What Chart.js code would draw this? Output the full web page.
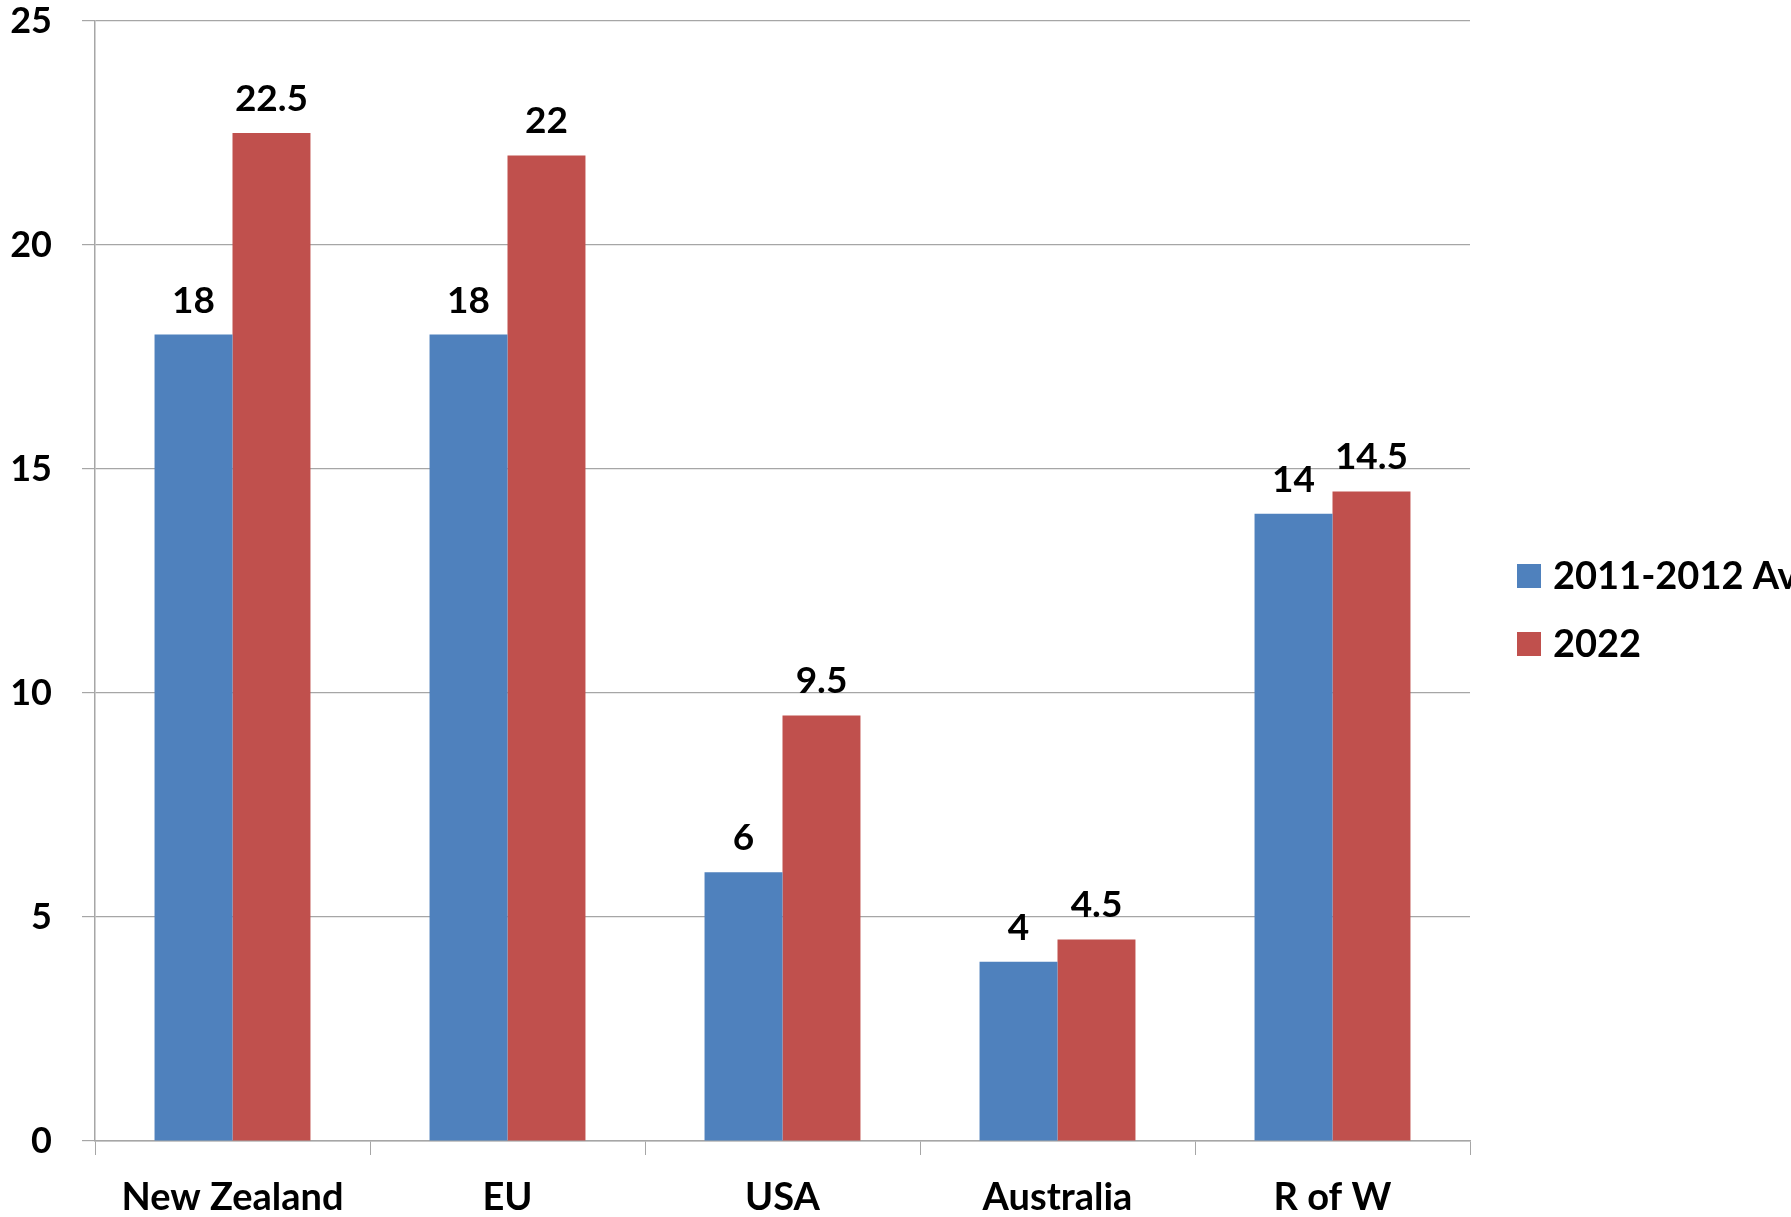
<!DOCTYPE html>
<html>
<head>
<meta charset="utf-8">
<script src="https://cdn.jsdelivr.net/npm/chart.js@4/dist/chart.umd.min.js"></script>
<style>
  html, body { margin: 0; padding: 0; background: #fff; overflow: hidden; }
  #wrap { width: 1791px; height: 1217px; position: relative; }
</style>
</head>
<body>
<div id="wrap"><canvas id="chart"></canvas></div>
<script>
const categories = ['New Zealand', 'EU', 'USA', 'Australia', 'R of W'];
const seriesNames = ['2011-2012 Av', '2022'];
const avg2011_2012 = [18, 18, 6, 4, 14];
const values2022 = [22.5, 22, 9.5, 4.5, 14.5];
const yTicks = [0, 5, 10, 15, 20, 25];

const FONT = 'Lato, Calibri, "Open Sans", sans-serif';
const GRID = '#a6a6a6';

// etiquetas de valor encima de cada barra
const valueLabels = {
  id: 'valueLabels',
  afterDatasetsDraw(chart) {
    const ctx = chart.ctx;
    ctx.save();
    ctx.font = 'bold 37px ' + FONT;
    ctx.fillStyle = '#000';
    ctx.textAlign = 'center';
    ctx.textBaseline = 'alphabetic';
    chart.data.datasets.forEach((ds, i) => {
      chart.getDatasetMeta(i).data.forEach((bar, j) => {
        ctx.fillText(String(ds.data[j]), bar.x, bar.y - 22);
      });
    });
    ctx.restore();
  }
};

// leyenda a la derecha, cortada por el borde como en el original
const sideLegend = {
  id: 'sideLegend',
  afterDraw(chart) {
    const ctx = chart.ctx;
    ctx.save();
    ctx.font = 'bold 38px ' + FONT;
    ctx.textBaseline = 'middle';
    ctx.textAlign = 'left';
    chart.data.datasets.forEach((ds, i) => {
      const cy = 576 + i * 68;
      ctx.fillStyle = ds.backgroundColor;
      ctx.fillRect(1517, cy - 12, 24, 24);
      ctx.fillStyle = '#000';
      ctx.fillText(ds.label, 1553, cy + 1);
    });
    ctx.restore();
  }
};

new Chart(document.getElementById('chart'), {
  type: 'bar',
  data: {
    labels: categories,
    datasets: [
      { label: seriesNames[0], data: avg2011_2012, backgroundColor: '#4f81bd' },
      { label: seriesNames[1], data: values2022, backgroundColor: '#c0504d' }
    ]
  },
  options: {
    responsive: true,
    maintainAspectRatio: false,
    animation: false,
    devicePixelRatio: 1,
    categoryPercentage: 0.567,
    barPercentage: 1,
    layout: { padding: { top: 0, right: 321, left: 0, bottom: 0 } },
    plugins: { legend: { display: false }, tooltip: { enabled: false } },
    scales: {
      x: {
        grid: { display: true, drawOnChartArea: false, color: GRID, tickLength: 14, offset: true },
        border: { color: GRID, width: 1.5 },
        ticks: { color: '#000', font: { family: FONT, size: 38, weight: 'bold' }, padding: 20, maxRotation: 0 },
        afterFit(scale) { scale.height = 76; }
      },
      y: {
        min: 0,
        max: 25,
        afterBuildTicks(scale) { scale.ticks = yTicks.map(v => ({ value: v })); },
        grid: { color: GRID, tickLength: 13, lineWidth: 1.2 },
        border: { color: GRID, width: 1.5 },
        ticks: { color: '#000', font: { family: FONT, size: 36, weight: 'bold' }, padding: 30 },
        afterFit(scale) {
          scale.width = 95;
          scale.paddingTop = 21;
          scale.paddingBottom = 0;
        }
      }
    }
  },
  plugins: [valueLabels, sideLegend]
});
</script>
</body>
</html>
